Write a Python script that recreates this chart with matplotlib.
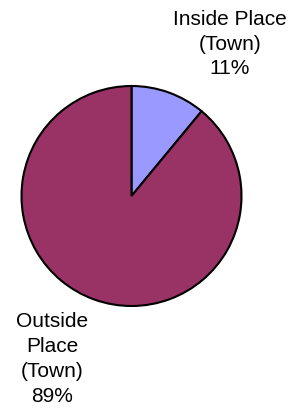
import matplotlib
matplotlib.use("Agg")
import matplotlib.pyplot as plt

# slice data
labels = ["Inside Place\n(Town)", "Outside\nPlace\n(Town)"]
values = [11, 89]
colors = ["#9999FF", "#993366"]

plt.rcParams['font.family'] = ['Liberation Sans', 'DejaVu Sans']

fig = plt.figure(figsize=(2.97, 4.15), dpi=100)
ax = fig.add_axes([0, 0, 1, 1])

ax.pie(values, colors=colors, startangle=90, counterclock=False,
       center=(131.5, 219), radius=110, frame=True,
       wedgeprops=dict(edgecolor='black', linewidth=1.5))
ax.set_xlim(0, 297)
ax.set_ylim(0, 415)
ax.set_aspect('equal')
ax.axis('off')

# labels with percentages
ax.text(230, 371, f"{labels[0]}\n{values[0]}%", ha='center', va='center',
        fontsize=15, linespacing=1.39)
ax.text(52, 56, f"{labels[1]}\n{values[1]}%", ha='center', va='center',
        fontsize=15, linespacing=1.39)

fig.savefig("out.png", dpi=100)
